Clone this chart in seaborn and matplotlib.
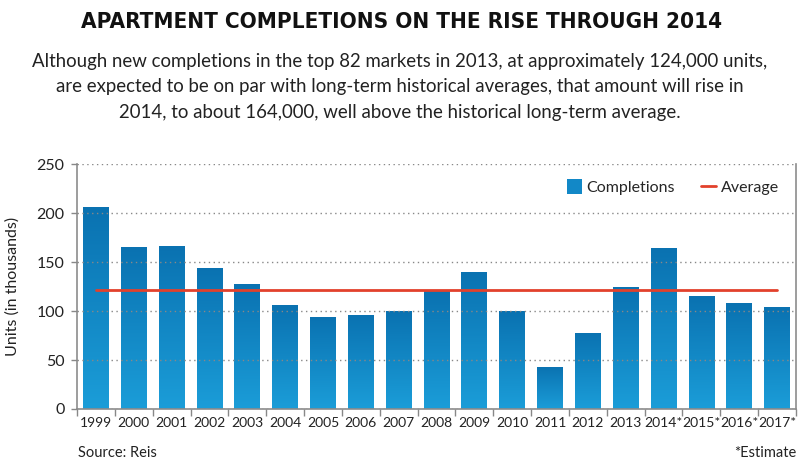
import numpy as np
import pandas as pd
import matplotlib
matplotlib.use("Agg")
import matplotlib.pyplot as plt
from matplotlib import font_manager
from matplotlib.colors import LinearSegmentedColormap
from matplotlib.lines import Line2D
from matplotlib.patches import Patch
import seaborn as sns

years = ["1999", "2000", "2001", "2002", "2003", "2004", "2005", "2006", "2007",
         "2008", "2009", "2010", "2011", "2012", "2013", "2014*", "2015*",
         "2016*", "2017*"]
completions = [206, 165, 166, 144, 128, 106, 94, 96, 100,
               120, 140, 100, 43, 78, 124, 164, 115, 108, 104]
average = 121

data = pd.DataFrame({"year": years, "completions": completions})
data["average"] = average


def has_font(name, **kw):
    try:
        font_manager.findfont(font_manager.FontProperties(family=name, **kw),
                              fallback_to_default=False)
        return True
    except Exception:
        return False


body_font = "Lato" if has_font("Lato") else "DejaVu Sans"

# narrowest heavy font we can find for the headline
title_font = dict(family="Roboto", weight="black")
narrow = [f for f in font_manager.fontManager.ttflist
          if ("Narrow" in f.name or "Condensed" in f.name
              or f.stretch in ("condensed", "semi-condensed", 600, 700))
          and f.weight in ("bold", 700, 800, 900, "heavy", "black")]
if narrow:
    title_font = dict(family=narrow[0].name, weight="bold",
                      stretch=narrow[0].stretch)

sns.set_style("white")
plt.rcParams["font.family"] = [body_font, "DejaVu Sans"]

fig = plt.figure(figsize=(8, 4.67), dpi=100)
ax = fig.add_axes([0.09625, 0.1242, 0.89875, 0.5246])

# bars
sns.barplot(data=data, x="year", y="completions", color="#1288c7",
            width=0.68, ax=ax, zorder=2)

# gradient fill inside each bar
grad = LinearSegmentedColormap.from_list("blu", ["#1b9dd8", "#0a72b1"])
for bar in ax.patches:
    x0, y0 = bar.get_x(), bar.get_y()
    w, h = bar.get_width(), bar.get_height()
    im = ax.imshow(np.linspace(0, 1, 100).reshape(-1, 1), cmap=grad,
                   origin="lower", aspect="auto",
                   extent=[x0, x0 + w, y0, y0 + h], zorder=2.1)
    im.set_clip_path(bar)

# average line
sns.lineplot(data=data, x="year", y="average", color="#e2412c", lw=2,
             ax=ax, zorder=4)

ax.set_xlim(-0.5, len(years) - 0.5)
ax.set_ylim(0, 250)
ax.set_yticks(range(0, 251, 50))
ax.yaxis.grid(True, linestyle=(0, (1, 2.5)), color="#888888", lw=1)
ax.set_axisbelow(False)
for gl in ax.get_ygridlines():
    gl.set_zorder(3)

ax.set_xticks(np.arange(-0.5, len(years) - 0.4, 1), minor=True)
ax.tick_params(axis="x", which="major", length=0, pad=6, labelsize=10,
               colors="#222222")
ax.tick_params(axis="x", which="minor", length=5, width=1, color="#888888",
               direction="out", bottom=True)
ax.tick_params(axis="y", length=4, width=1, color="#888888", pad=5,
               labelsize=11.5, colors="#222222", left=True)

for side in ["left", "bottom", "right"]:
    ax.spines[side].set_visible(True)
    ax.spines[side].set_color("#8c8c8c")
    ax.spines[side].set_linewidth(1.2)
ax.spines["top"].set_visible(False)

ax.set_xlabel("")
ax.set_ylabel("Units (in thousands)", fontsize=11.5, color="#222222",
              labelpad=12)

handles = [Patch(facecolor="#1288c7", edgecolor="none"),
           Line2D([0], [0], color="#e2412c", lw=2)]
ax.legend(handles, ["Completions", "Average"], loc="upper right",
          bbox_to_anchor=(0.985, 0.965), ncol=2, frameon=False, fontsize=11.5,
          handlelength=0.95, handleheight=1.1, handletextpad=0.3,
          columnspacing=1.6, borderaxespad=0)

title = fig.text(0.5025, 0.953, "APARTMENT COMPLETIONS ON THE RISE THROUGH 2014",
                 ha="center", va="center", fontsize=24, color="#111111",
                 **title_font)
fig.canvas.draw()
tw = title.get_window_extent().width
title.set_fontsize(min(30, 24 * 640 / tw))

subtitle = ("Although new completions in the top 82 markets in 2013, at approximately 124,000 units,\n"
            "are expected to be on par with long-term historical averages, that amount will rise in\n"
            "2014, to about 164,000, well above the historical long-term average.")
fig.text(0.5, 0.814, subtitle, ha="center", va="center", fontsize=13.4,
         color="#222222", linespacing=1.6)

fig.text(0.0975, 0.03, "Source: Reis", ha="left", va="center", fontsize=10.5,
         color="#222222")
fig.text(0.995, 0.03, "*Estimate", ha="right", va="center", fontsize=10.5,
         color="#222222")

fig.savefig("out.png", dpi=100)
